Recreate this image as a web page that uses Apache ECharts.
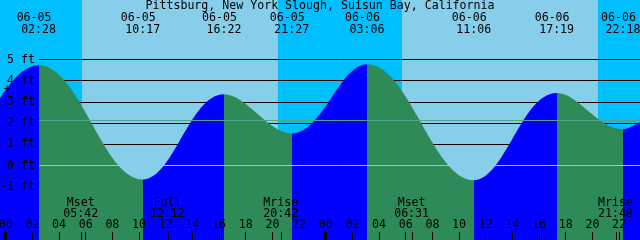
<!DOCTYPE html>
<html><head><meta charset="utf-8">
<script src="https://cdn.jsdelivr.net/npm/echarts@6/dist/echarts.min.js"></script>
<style>html,body{margin:0;padding:0;background:#00BFFF}#c{width:640px;height:240px}</style>
</head><body><div id="c"></div>
<script>
const titleText = 'Pittsburg, New York Slough, Suisun Bay, California';
// tide curve (edges + highs/lows): hours since 06-05 00:00, height in ft
const tideHours = [-0.43, 1.07, 2.467, 10.283, 16.367, 21.45, 27.1, 35.1, 41.317, 46.3, 47.6];
const tideFeet = [3.17, 4.34, 4.73, -0.66, 3.36, 1.51, 4.78, -0.69, 3.42, 1.71, 2.06];
// tide events (top labels)
const eventDates = ['06-05', '06-05', '06-05', '06-05', '06-06', '06-06', '06-06', '06-06'];
const eventTimes = ['02:28', '10:17', '16:22', '21:27', '03:06', '11:06', '17:19', '22:18'];
const eventKinds = ['H', 'L', 'H', 'L', 'H', 'L', 'H', 'L'];
// moon events (bottom labels)
const moonNames = ['Mset', 'Full', 'Mrise', 'Mset', 'Mrise'];
const moonDates = ['06-05', '06-05', '06-05', '06-06', '06-06'];
const moonTimes = ['05:42', '12:12', '20:42', '06:31', '21:48'];
// sun
const sunDates = ['06-05', '06-06'];
const sunriseTimes = ['05:43', '05:43'];
const sunsetTimes = ['20:25', '20:25'];
// axes
const hourTicks = [0, 2, 4, 6, 8, 10, 12, 14, 16, 18, 20, 22, 24, 26, 28, 30, 32, 34, 36, 38, 40, 42, 44, 46];
const midnightTicks = [0, 24];
const footLabels = [-1, 0, 1, 2, 3, 4, 5];
const gridFeet = [-1, 1, 2, 3, 4, 5];
const datumFeet = 0;
const mslFeet = 2.12;

const xMin = -0.4275, xMax = 47.57;
const yMin = -3.514, yMax = 7.807;
const lineStartHour = 2.5;
const FONT = '"DejaVu Sans Mono", monospace';
const FS = 11.6;
const RISE = '#0000FF', FALL = '#2E8B57', DAY = '#87CEEB', NIGHT = '#00BFFF';

function toHours(d, t) {
  const day = parseInt(d.slice(3), 10) - 5;
  const p = t.split(':');
  return day * 24 + parseInt(p[0], 10) + parseInt(p[1], 10) / 60;
}
const pad = n => (n < 10 ? '0' : '') + n;

const tideData = tideHours.map((h, i) => [h, tideFeet[i]]);
const eventHours = eventDates.map((d, i) => toHours(d, eventTimes[i]));
const moonHours = moonDates.map((d, i) => toHours(d, moonTimes[i]));

const pieces = [];
eventHours.forEach((h, i) => {
  const col = eventKinds[i] === 'H' ? RISE : FALL;
  pieces.push({ gte: i === 0 ? xMin - 1 : eventHours[i - 1], lt: h, color: col });
});
pieces.push({ gte: eventHours[eventHours.length - 1], lte: xMax + 1, color: eventKinds[eventKinds.length - 1] === 'H' ? FALL : RISE });

const dayAreas = sunDates.map((d, i) => [{ xAxis: toHours(d, sunriseTimes[i]) }, { xAxis: toHours(d, sunsetTimes[i]) }]);
const gridLines = gridFeet.map(v => [{ coord: [lineStartHour, v] }, { coord: [xMax, v] }]);

const chart = echarts.init(document.getElementById('c'), null, { renderer: 'canvas' });
const labelFont = 'normal ' + FS + 'px ' + FONT;

const tickAxis = (vals, w) => ({
  type: 'value', gridIndex: 0, min: xMin, max: xMax, position: 'bottom', z: 10,
  axisLine: { show: false, onZero: false }, splitLine: { show: false }, axisLabel: { show: false },
  axisTick: { show: true, inside: true, length: 8, customValues: vals, lineStyle: { color: '#000', width: w } }
});

chart.setOption({
  animation: false,
  backgroundColor: NIGHT,
  grid: {
    left: 0, right: 0, top: 0, bottom: 0, show: true, backgroundColor: NIGHT, borderWidth: 0,
    containLabel: false, outerBoundsMode: 'none'
  },
  xAxis: [
    {
      type: 'value', min: xMin, max: xMax, position: 'bottom', z: 10,
      axisLine: { show: false, onZero: false }, splitLine: { show: false },
      axisTick: { show: true, inside: true, length: 8, customValues: hourTicks, lineStyle: { color: '#000', width: 1 } },
      axisLabel: {
        show: true, inside: true, margin: 15, verticalAlign: 'middle', customValues: hourTicks,
        formatter: v => pad(((Math.round(v) % 24) + 24) % 24),
        color: '#000', fontFamily: FONT, fontSize: FS
      }
    },
    tickAxis(midnightTicks, 3),
    tickAxis(moonHours, 1)
  ],
  yAxis: {
    type: 'value', min: yMin, max: yMax, z: 10,
    axisLine: { show: false, onZero: false }, axisTick: { show: false }, splitLine: { show: false },
    axisLabel: {
      show: true, inside: true, margin: 35, align: 'right', verticalAlign: 'middle',
      customValues: footLabels, formatter: v => v + ' ft',
      color: '#000', fontFamily: FONT, fontSize: FS
    }
  },
  visualMap: { type: 'piecewise', show: false, dimension: 0, seriesIndex: 2, pieces: pieces },
  series: [
    {
      type: 'line', data: tideData, symbol: 'none', lineStyle: { opacity: 0 }, silent: true, z: 0,
      markArea: { silent: true, z: 0, label: { show: false }, itemStyle: { color: DAY, opacity: 1, borderWidth: 0 }, data: dayAreas }
    },
    {
      type: 'line', data: tideData, symbol: 'none', lineStyle: { opacity: 0 }, silent: true, z: 1,
      markLine: {
        silent: true, z: 1, symbol: ['none', 'none'], label: { show: false },
        lineStyle: { color: '#000', width: 1, type: 'solid' }, emphasis: { disabled: true },
        data: gridLines
      }
    },
    {
      type: 'line', data: tideData, smooth: 0.38, symbol: 'none', showSymbol: false, silent: true, z: 2,
      lineStyle: { opacity: 0, width: 0 },
      areaStyle: { opacity: 1, origin: 'start' },
      emphasis: { disabled: true }
    },
    {
      type: 'line', data: tideData, symbol: 'none', lineStyle: { opacity: 0 }, silent: true, z: 3,
      markLine: {
        silent: true, z: 3, symbol: ['none', 'none'], label: { show: false }, emphasis: { disabled: true },
        data: [
          [{ coord: [lineStartHour, datumFeet], lineStyle: { color: DAY, width: 1, type: 'solid' } }, { coord: [xMax, datumFeet] }],
          [{ coord: [lineStartHour, mslFeet], lineStyle: { color: '#4DA58A', width: 1, type: 'solid' } }, { coord: [xMax, mslFeet] }]
        ]
      }
    },
    {
      type: 'custom', silent: true, z: 6, clip: false,
      data: eventHours.map(h => [h, 0]),
      encode: { x: 0, y: 1 },
      renderItem: function (params, api) {
        const x = api.coord([api.value(0), 0])[0];
        const i = params.dataIndex;
        return {
          type: 'group', children: [
            { type: 'text', x: x - 4.5, y: 17.5, style: { text: eventDates[i], align: 'center', verticalAlign: 'middle', fill: '#000', font: labelFont } },
            { type: 'text', x: x, y: 29.5, style: { text: eventTimes[i], align: 'center', verticalAlign: 'middle', fill: '#000', font: labelFont } }
          ]
        };
      }
    },
    {
      type: 'custom', silent: true, z: 6, clip: false,
      data: moonHours.map(h => [h, 0]),
      encode: { x: 0, y: 1 },
      renderItem: function (params, api) {
        const x = api.coord([api.value(0), 0])[0];
        const i = params.dataIndex;
        return {
          type: 'group', children: [
            { type: 'text', x: x - 1, y: 202.5, style: { text: moonNames[i], align: 'center', verticalAlign: 'middle', fill: '#000', font: labelFont } },
            { type: 'text', x: x - 1, y: 213.8, style: { text: moonTimes[i], align: 'center', verticalAlign: 'middle', fill: '#000', font: labelFont } }
          ]
        };
      }
    }
  ],
  graphic: [
    { type: 'text', x: 320, y: 6, z: 10, silent: true, style: { text: titleText, align: 'center', verticalAlign: 'middle', fill: '#000', font: labelFont } },
    { type: 'text', x: 7, y: 90.3, z: 10, silent: true, style: { text: '+', align: 'center', verticalAlign: 'middle', fill: '#000', font: labelFont } }
  ]
});
</script>
</body></html>
